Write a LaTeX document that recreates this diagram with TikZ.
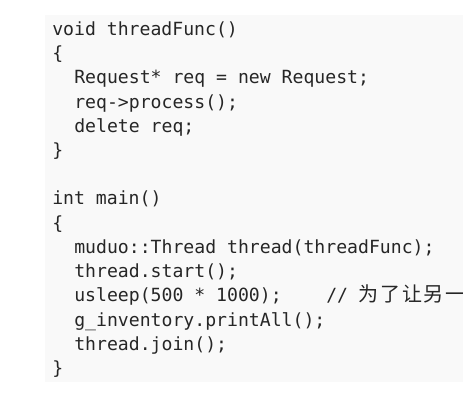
\documentclass[tikz,border=0pt]{standalone}
\usepackage{fontspec}
\setmonofont{DejaVu Sans Mono}
\newfontfamily\cjkfont[LetterSpace=9.4]{Noto Sans CJK SC}
\definecolor{codeink}{RGB}{38,38,38}
\definecolor{codebg}{RGB}{249,249,249}
\tikzset{
	codeline/.style={anchor=base west,inner sep=0pt,text=codeink,font=\ttfamily\fontsize{13.6}{16}\selectfont},
	cjkline/.style={anchor=base west,inner sep=0pt,text=codeink,font=\cjkfont\fontsize{15}{18}\selectfont}
}
\begin{document}
\begin{tikzpicture}[x=0.75pt,y=0.75pt,yscale=-1]
	\useasboundingbox (0,0) rectangle (463,400);
	\clip (0,0) rectangle (463,400);
	
	%Shape: Rectangle [id:code background]
	\fill [codebg] (45,15) rectangle (463,382);
	
	% Text Node
	\draw (52,35) node [codeline] (fhead) {void threadFunc()};
	% Text Node
	\draw (52,59) node [codeline] (fopen) {\{};
	% Text Node
	\draw (74,83) node [codeline] (newreq) {Request* req = new Request;};
	% Text Node
	\draw (74,108) node [codeline] (procreq) {req->process();};
	% Text Node
	\draw (74,132) node [codeline] (delreq) {delete req;};
	% Text Node
	\draw (52,156) node [codeline] (fclose) {\}};
	
	% Text Node
	\draw (52,204) node [codeline] (mhead) {int main()};
	% Text Node
	\draw (52,229) node [codeline] (mopen) {\{};
	% Text Node
	\draw (74,253) node [codeline] (mkthread) {muduo::Thread thread(threadFunc);};
	% Text Node
	\draw (74,277) node [codeline] (start) {thread.start();};
	% Text Node
	\draw (74,301) node [codeline] (sleep) {usleep(500 * 1000);};
	% Text Node
	\draw (326,301) node [codeline] (slash) {//};
	% Text Node
	\draw (358,301) node [cjkline] (cmt) {为了让另一};
	% Text Node
	\draw (74,326) node [codeline] (print) {g\_inventory.printAll();};
	% Text Node
	\draw (74,350) node [codeline] (join) {thread.join();};
	% Text Node
	\draw (52,374) node [codeline] (mclose) {\}};
	
\end{tikzpicture}
\end{document}
